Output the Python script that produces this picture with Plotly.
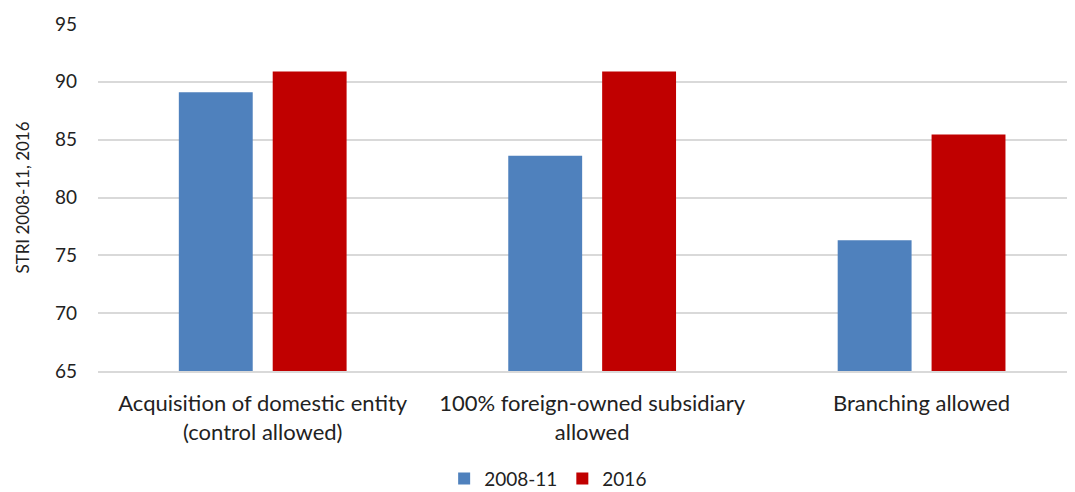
import plotly.graph_objects as go

categories = ["Acquisition of domestic entity<br>(control allowed)",
              "100% foreign-owned subsidiary<br>allowed",
              "Branching allowed"]
stri_2008_11 = [89.1, 83.6, 76.3]
stri_2016 = [90.9, 90.9, 85.45]

fig = go.Figure()
fig.add_trace(go.Bar(x=categories, y=stri_2008_11, name="2008-11",
                     marker=dict(color="#4f81bd", line=dict(width=0))))
fig.add_trace(go.Bar(x=categories, y=stri_2016, name="2016",
                     marker=dict(color="#c00000", line=dict(width=0))))

# page body adds ~8px offset, margins compensate
fig.update_layout(
    width=1075, height=492,
    margin=dict(l=90, r=0, t=16, b=129, autoexpand=False),
    barmode="group", bargap=0.43, bargroupgap=0.213,
    plot_bgcolor="white", paper_bgcolor="white",
    font=dict(family="Lato", size=19, color="#222"),
    yaxis=dict(range=[65, 95], dtick=5, showgrid=True, gridcolor="#d9d9d9",
               gridwidth=1.5, zeroline=False, ticks="", ticklabelstandoff=20,
               automargin=False,
               title=dict(text="STRI 2008-11, 2016", font=dict(size=17), standoff=21)),
    xaxis=dict(range=[-0.5, 2.49], showline=True, linecolor="#d9d9d9", linewidth=1.5,
               ticks="", tickfont=dict(size=22), automargin=False, ticklabelstandoff=12),
    legend=dict(orientation="h", x=0.457, xanchor="center", y=-0.31, yanchor="middle",
                font=dict(size=19)),
    showlegend=True,
)

fig.write_html("out.html")
